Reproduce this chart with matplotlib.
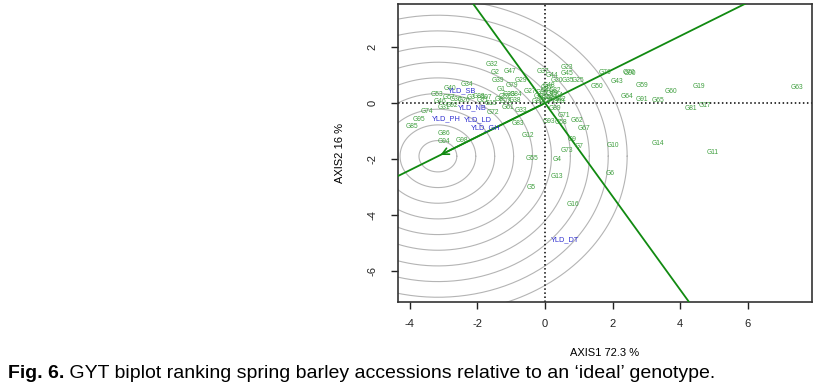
import numpy as np
import matplotlib.pyplot as plt

# genotype labels (AXIS1, AXIS2)
gen_names = ['G63', 'G19', 'G60', 'G17', 'G81', 'G65', 'G91', 'G64', 'G59', 'G43',
             'G70', 'G90', 'G76', 'G50', 'G14', 'G11', 'G10', 'G6', 'G16', 'G13',
             'G4', 'G5', 'G55', 'G73', 'G7', 'G9', 'G67', 'G62', 'G71', 'G58',
             'G93', 'G89', 'G12', 'G83', 'G33', 'G61', 'G72', 'G98', 'G94', 'G86',
             'G85', 'G95', 'G74', 'G31', 'G53', 'G40', 'G34', 'G88', 'G32', 'G2',
             'G47', 'G39', 'G29', 'G79', 'G1', 'G28', 'G27', 'G37', 'G44', 'G23',
             'G45', 'G20', 'G35', 'G25', 'G48', 'G42',
             'G46', 'G57', 'G30', 'G26', 'G3', 'G21', 'G15', 'G8', 'G78', 'G38',
             'G84', 'G52', 'G92', 'G97',
             'G41', 'G49', 'G54', 'G56', 'G66', 'G68', 'G75', 'G77', 'G80', 'G82',
             'G87', 'G96', 'G99']
gen_x = [7.46, 4.54, 3.72, 4.73, 4.32, 3.35, 2.86, 2.42, 2.86, 2.14,
         2.47, 2.50, 1.78, 1.53, 3.33, 4.96, 2.02, 1.92, 0.82, 0.35,
         0.36, -0.42, -0.39, 0.66, 1.01, 0.81, 1.16, 0.93, 0.57, 0.46,
         0.12, 0.29, -0.51, -0.80, -0.70, -1.09, -1.55, -2.46, -2.99, -2.99,
         -3.94, -3.73, -3.50, -3.00, -3.19, -2.81, -2.30, -1.97, -1.57, -1.49,
         -1.04, -1.41, -0.70, -0.98, -1.31, -1.06, -0.45, -0.05, 0.20, 0.65,
         0.65, 0.35, 0.68, 0.98, 0.12, 0.44,
         -3.12, -2.85, -2.65, -2.40, -2.20, -1.85, -1.60, -1.35, -1.15, -0.90,
         -0.85, -1.20, -2.75, -1.75,
         0.05, 0.20, 0.35, 0.10, 0.25, -0.15, 0.00, 0.15, -0.20, 0.30,
         0.05, -0.10, 0.40]
gen_y = [0.55, 0.58, 0.43, -0.07, -0.19, 0.08, 0.13, 0.23, 0.64, 0.76,
         1.08, 1.06, 1.10, 0.61, -1.44, -1.77, -1.51, -2.51, -3.62, -2.61,
         -2.01, -3.01, -1.98, -1.70, -1.54, -1.30, -0.90, -0.64, -0.46, -0.70,
         -0.67, -0.19, -1.16, -0.73, -0.25, -0.15, -0.35, -1.32, -1.38, -1.08,
         -0.85, -0.58, -0.31, -0.15, 0.32, 0.51, 0.68, 0.25, 1.39, 1.10,
         1.13, 0.80, 0.80, 0.63, 0.49, 0.31, 0.42, 1.14, 1.00, 1.28,
         1.05, 0.82, 0.82, 0.80, 0.64, 0.13,
         0.05, 0.20, 0.12, 0.08, 0.20, 0.10, 0.00, 0.12, 0.05, 0.10,
         0.30, 0.25, -0.08, 0.20,
         0.45, 0.35, 0.28, 0.20, 0.15, 0.25, 0.10, 0.05, 0.05, 0.45,
         0.55, 0.38, 0.05]

# trait (environment) labels
env_names = ['YLD_SB', 'YLD_NB', 'YLD_PH', 'YLD_LD', 'YLD_GH', 'YLD_DT']
env_x = [-2.47, -2.15, -2.93, -2.00, -1.75, 0.59]
env_y = [0.44, -0.17, -0.55, -0.60, -0.90, -4.89]

# ideal genotype and ranking circles
ideal = [-3.17, -1.90]
circle_step = 0.56
n_circles = 10

xlim = (-4.35, 7.90)
ylim = (-7.11, 3.54)

green_txt = '#3f9f3f'
green_line = '#118a11'
blue_txt = '#3030d0'

plt.rcParams['font.family'] = ['Liberation Sans', 'DejaVu Sans']
plt.rcParams['axes.unicode_minus'] = False

fig = plt.figure(figsize=(8.28, 3.87), dpi=100)
ax = fig.add_axes([0.4807, 0.2196, 0.5, 0.770])

# concentric circles round the ideal point
t = np.linspace(0, 2 * np.pi, 400)
for k in range(1, n_circles + 1):
    r = k * circle_step
    ax.plot(ideal[0] + r * np.cos(t), ideal[1] + r * np.sin(t), color='#b4b4b4', lw=0.8, zorder=1)

# origin dotted lines
ax.axhline(0, color='black', ls=':', lw=1.1, zorder=2)
ax.axvline(0, color='black', ls=':', lw=1.1, zorder=2)

# average axis through ideal point and its perpendicular
s = ideal[1] / ideal[0]
xx = np.array([-10, 12])
ax.plot(xx, s * xx, color=green_line, lw=1.3, zorder=3)
ax.plot(xx, -xx / s, color=green_line, lw=1.3, zorder=3)
ax.annotate('', xy=(ideal[0], ideal[1]), xytext=(0, 0),
            arrowprops=dict(arrowstyle='->', color=green_line, lw=1.2, mutation_scale=12), zorder=3)

for n, x, y in zip(gen_names, gen_x, gen_y):
    ax.text(x, y, n, color=green_txt, fontsize=4.8, ha='center', va='center', zorder=4)
for n, x, y in zip(env_names, env_x, env_y):
    ax.text(x, y, n, color=blue_txt, fontsize=5.3, ha='center', va='center', zorder=5)

ax.set_xlim(xlim)
ax.set_ylim(ylim)
ax.set_xticks([-4, -2, 0, 2, 4, 6])
ax.set_yticks([-6, -4, -2, 0, 2])
ax.tick_params(direction='out', length=5, width=1, labelsize=8, colors='#222222')
ax.tick_params(axis='x', pad=7)
ax.tick_params(axis='y', pad=10)
for lab in ax.get_yticklabels():
    lab.set_rotation(90)
    lab.set_va('center')
for sp in ax.spines.values():
    sp.set_linewidth(1.2)
    sp.set_color('#333333')

ax.set_xlabel('AXIS1 72.3 %', fontsize=8, labelpad=14)
ax.set_ylabel('AXIS2 16 %', fontsize=8, labelpad=16)

# caption
cap = fig.text(8 / 828, 9 / 387, 'Fig. 6.', fontsize=14.0, fontweight='bold', ha='left', va='baseline')
ax.annotate(' GYT biplot ranking spring barley accessions relative to an \u2018ideal\u2019 genotype.',
            xy=(1, 0), xycoords=cap, fontsize=14.0, ha='left', va='bottom', annotation_clip=False)

fig.savefig('out.png', dpi=100)
